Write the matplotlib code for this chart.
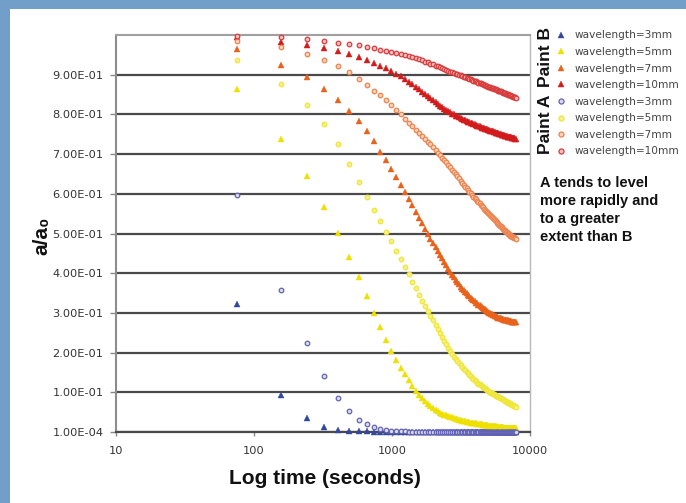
import matplotlib.pyplot as plt
from matplotlib.patches import Rectangle

# sample times (s), same for every series
time_s = [75, 158, 241, 324, 407, 490, 573, 656, 739, 822,
          905, 988, 1071, 1154, 1237, 1320, 1403, 1486, 1569, 1652,
          1735, 1818, 1901, 1984, 2067, 2150, 2233, 2316, 2399, 2482,
          2565, 2648, 2731, 2814, 2897, 2980, 3063, 3146, 3229, 3312,
          3395, 3478, 3561, 3644, 3727, 3810, 3893, 3976, 4059, 4142,
          4225, 4308, 4391, 4474, 4557, 4640, 4723, 4806, 4889, 4972,
          5055, 5138, 5221, 5304, 5387, 5470, 5553, 5636, 5719, 5802,
          5885, 5968, 6051, 6134, 6217, 6300, 6383, 6466, 6549, 6632,
          6715, 6798, 6881, 6964, 7047, 7130, 7213, 7296, 7379, 7462,
          7545, 7628, 7711, 7794, 7877]

# Paint B (triangles)
paint_b_3mm = [0.323, 0.094, 0.035, 0.013, 0.006, 0.0035, 0.0024, 0.0017, 0.0013, 0.0011,
               0.0010, 0.0009, 0.0008, 0.0008, 0.0007, 0.0007, 0.0007, 0.0006, 0.0006, 0.0006,
               0.0005, 0.0005, 0.0005, 0.0005, 0.0005, 0.0005, 0.0005, 0.0005, 0.0005, 0.0005,
               0.0005, 0.0005, 0.0005, 0.0005, 0.0005, 0.0005, 0.0005, 0.0005, 0.0005, 0.0005,
               0.0004, 0.0004, 0.0004, 0.0004, 0.0004, 0.0004, 0.0004, 0.0004, 0.0004, 0.0004,
               0.0004, 0.0004, 0.0004, 0.0004, 0.0004, 0.0004, 0.0004, 0.0004, 0.0004, 0.0004,
               0.0004, 0.0004, 0.0004, 0.0004, 0.0004, 0.0004, 0.0004, 0.0004, 0.0004, 0.0004,
               0.0003, 0.0003, 0.0003, 0.0003, 0.0003, 0.0003, 0.0003, 0.0003, 0.0003, 0.0003,
               0.0003, 0.0003, 0.0003, 0.0003, 0.0003, 0.0003, 0.0003, 0.0003, 0.0003, 0.0003,
               0.0003, 0.0003, 0.0003, 0.0003, 0.0003]
paint_b_5mm = [0.865, 0.737, 0.645, 0.568, 0.501, 0.442, 0.390, 0.343, 0.300, 0.264,
               0.233, 0.205, 0.181, 0.162, 0.145, 0.130, 0.116, 0.104, 0.094, 0.085,
               0.078, 0.071, 0.065, 0.060, 0.056, 0.052, 0.049, 0.046, 0.044, 0.042,
               0.040, 0.038, 0.037, 0.035, 0.034, 0.033, 0.031, 0.030, 0.029, 0.028,
               0.027, 0.026, 0.026, 0.025, 0.024, 0.024, 0.023, 0.022, 0.022, 0.021,
               0.021, 0.020, 0.020, 0.019, 0.018, 0.018, 0.018, 0.017, 0.017, 0.016,
               0.016, 0.016, 0.015, 0.015, 0.015, 0.014, 0.014, 0.014, 0.013, 0.013,
               0.013, 0.013, 0.012, 0.012, 0.012, 0.012, 0.012, 0.011, 0.011, 0.011,
               0.011, 0.011, 0.011, 0.010, 0.010, 0.010, 0.010, 0.010, 0.010, 0.010,
               0.010, 0.010, 0.010, 0.010, 0.010]
paint_b_7mm = [0.965, 0.925, 0.893, 0.864, 0.837, 0.809, 0.784, 0.759, 0.732, 0.706,
               0.684, 0.663, 0.642, 0.623, 0.605, 0.587, 0.571, 0.555, 0.540, 0.526,
               0.512, 0.499, 0.487, 0.477, 0.466, 0.457, 0.447, 0.438, 0.429, 0.420,
               0.411, 0.403, 0.396, 0.390, 0.384, 0.378, 0.372, 0.366, 0.361, 0.357,
               0.353, 0.349, 0.345, 0.342, 0.338, 0.335, 0.332, 0.329, 0.326, 0.324,
               0.321, 0.319, 0.317, 0.315, 0.313, 0.311, 0.309, 0.307, 0.305, 0.303,
               0.301, 0.300, 0.298, 0.297, 0.296, 0.294, 0.293, 0.292, 0.290, 0.289,
               0.288, 0.287, 0.286, 0.286, 0.285, 0.284, 0.284, 0.283, 0.283, 0.282,
               0.282, 0.281, 0.281, 0.280, 0.280, 0.279, 0.279, 0.279, 0.278, 0.278,
               0.277, 0.277, 0.277, 0.276, 0.276]
paint_b_10mm = [0.995, 0.982, 0.974, 0.967, 0.960, 0.952, 0.945, 0.938, 0.930, 0.923,
                0.917, 0.910, 0.903, 0.896, 0.889, 0.882, 0.876, 0.869, 0.863, 0.857,
                0.851, 0.846, 0.841, 0.836, 0.831, 0.827, 0.822, 0.818, 0.814, 0.810,
                0.808, 0.805, 0.802, 0.800, 0.797, 0.795, 0.793, 0.791, 0.789, 0.787,
                0.786, 0.784, 0.782, 0.781, 0.779, 0.778, 0.776, 0.775, 0.774, 0.772,
                0.771, 0.770, 0.769, 0.767, 0.766, 0.765, 0.764, 0.763, 0.762, 0.761,
                0.760, 0.759, 0.758, 0.758, 0.757, 0.756, 0.755, 0.754, 0.753, 0.752,
                0.752, 0.751, 0.750, 0.750, 0.749, 0.748, 0.748, 0.747, 0.746, 0.746,
                0.745, 0.745, 0.744, 0.744, 0.743, 0.743, 0.742, 0.742, 0.741, 0.741,
                0.740, 0.740, 0.740, 0.739, 0.739]

# Paint A (circles)
paint_a_3mm = [0.596, 0.358, 0.223, 0.141, 0.086, 0.052, 0.031, 0.019, 0.012, 0.008,
               0.0055, 0.0038, 0.0027, 0.0020, 0.0015, 0.0012, 0.0010, 0.0009, 0.0008, 0.0008,
               0.0007, 0.0007, 0.0007, 0.0007, 0.0007, 0.0007, 0.0007, 0.0007, 0.0007, 0.0007,
               0.0006, 0.0006, 0.0006, 0.0006, 0.0006, 0.0006, 0.0006, 0.0006, 0.0006, 0.0006,
               0.0006, 0.0006, 0.0006, 0.0006, 0.0006, 0.0006, 0.0006, 0.0006, 0.0006, 0.0006,
               0.0005, 0.0005, 0.0005, 0.0005, 0.0005, 0.0005, 0.0005, 0.0005, 0.0005, 0.0005,
               0.0005, 0.0005, 0.0005, 0.0005, 0.0005, 0.0005, 0.0005, 0.0005, 0.0005, 0.0005,
               0.0005, 0.0005, 0.0005, 0.0005, 0.0005, 0.0005, 0.0005, 0.0005, 0.0005, 0.0005,
               0.0004, 0.0004, 0.0004, 0.0004, 0.0004, 0.0004, 0.0004, 0.0004, 0.0004, 0.0004,
               0.0004, 0.0004, 0.0004, 0.0004, 0.0004]
paint_a_5mm = [0.936, 0.877, 0.824, 0.777, 0.726, 0.676, 0.631, 0.593, 0.560, 0.531,
               0.505, 0.480, 0.457, 0.436, 0.416, 0.397, 0.379, 0.362, 0.346, 0.331,
               0.318, 0.305, 0.293, 0.281, 0.270, 0.259, 0.249, 0.239, 0.230, 0.221,
               0.212, 0.203, 0.196, 0.190, 0.184, 0.179, 0.173, 0.168, 0.163, 0.159,
               0.155, 0.152, 0.148, 0.144, 0.141, 0.137, 0.134, 0.131, 0.128, 0.124,
               0.122, 0.120, 0.118, 0.116, 0.114, 0.112, 0.110, 0.108, 0.106, 0.104,
               0.102, 0.101, 0.099, 0.098, 0.096, 0.095, 0.094, 0.092, 0.091, 0.090,
               0.089, 0.087, 0.086, 0.085, 0.084, 0.083, 0.082, 0.080, 0.079, 0.078,
               0.077, 0.076, 0.075, 0.074, 0.073, 0.072, 0.071, 0.070, 0.069, 0.068,
               0.067, 0.066, 0.066, 0.065, 0.064]
paint_a_7mm = [0.984, 0.970, 0.953, 0.938, 0.923, 0.906, 0.889, 0.875, 0.860, 0.848,
               0.836, 0.824, 0.812, 0.800, 0.789, 0.779, 0.770, 0.761, 0.753, 0.746,
               0.738, 0.731, 0.725, 0.718, 0.711, 0.704, 0.698, 0.691, 0.685, 0.679,
               0.673, 0.667, 0.661, 0.655, 0.649, 0.644, 0.639, 0.633, 0.628, 0.623,
               0.618, 0.614, 0.609, 0.605, 0.601, 0.597, 0.593, 0.590, 0.586, 0.582,
               0.579, 0.576, 0.572, 0.569, 0.566, 0.563, 0.560, 0.557, 0.554, 0.552,
               0.549, 0.546, 0.544, 0.541, 0.538, 0.536, 0.533, 0.531, 0.529, 0.526,
               0.524, 0.522, 0.520, 0.518, 0.516, 0.514, 0.512, 0.510, 0.508, 0.506,
               0.505, 0.503, 0.501, 0.499, 0.498, 0.497, 0.495, 0.494, 0.493, 0.492,
               0.491, 0.490, 0.489, 0.488, 0.487]
paint_a_10mm = [0.997, 0.996, 0.990, 0.986, 0.981, 0.977, 0.974, 0.970, 0.966, 0.963,
                0.960, 0.958, 0.955, 0.952, 0.950, 0.947, 0.945, 0.942, 0.939, 0.936,
                0.933, 0.931, 0.928, 0.926, 0.923, 0.921, 0.919, 0.917, 0.914, 0.912,
                0.910, 0.908, 0.907, 0.905, 0.903, 0.901, 0.900, 0.898, 0.896, 0.895,
                0.893, 0.892, 0.891, 0.889, 0.888, 0.886, 0.885, 0.884, 0.883, 0.881,
                0.880, 0.879, 0.878, 0.877, 0.876, 0.875, 0.873, 0.872, 0.871, 0.870,
                0.869, 0.868, 0.867, 0.867, 0.866, 0.865, 0.864, 0.863, 0.862, 0.861,
                0.860, 0.859, 0.858, 0.858, 0.857, 0.856, 0.855, 0.854, 0.854, 0.853,
                0.852, 0.851, 0.851, 0.850, 0.849, 0.848, 0.848, 0.847, 0.846, 0.846,
                0.845, 0.844, 0.844, 0.843, 0.842]

wavelength_labels = ["wavelength=3mm", "wavelength=5mm", "wavelength=7mm", "wavelength=10mm"]
y_ticks = [0.0001, 0.1, 0.2, 0.3, 0.4, 0.5, 0.6, 0.7, 0.8, 0.9]
y_tick_labels = ["1.00E-04", "1.00E-01", "2.00E-01", "3.00E-01", "4.00E-01",
                 "5.00E-01", "6.00E-01", "7.00E-01", "8.00E-01", "9.00E-01"]
x_ticks = [10, 100, 1000, 10000]
x_tick_labels = ["10", "100", "1000", "10000"]

W, H = 686, 503
fig = plt.figure(figsize=(W / 100, H / 100), dpi=100, facecolor='#729fca')
# white panel inside the blue frame (kept behind the axes)
fig.patches.append(Rectangle((10 / W, 0), 1, (H - 9) / H, transform=fig.transFigure,
                             facecolor='white', edgecolor='none', zorder=-10))

ax = fig.add_axes([116 / W, 1 - 432 / H, (530 - 116) / W, (432 - 35) / H])
ax.set_facecolor('white')

tri_colors = ['#33489c', '#eee000', '#e8621c', '#d21c1c']
circ_edges = ['#6262b4', '#efe63a', '#ec8450', '#d83c3c']
circ_fills = ['#dcdcf0', '#f6f08a', '#f9d2ba', '#f4c0c0']

handles = []
for vals, c in zip([paint_b_3mm, paint_b_5mm, paint_b_7mm, paint_b_10mm], tri_colors):
    h, = ax.plot(time_s, vals, linestyle='none', marker='^', markersize=3.9,
                 color=c, markeredgewidth=0.3, clip_on=False, zorder=3)
    handles.append(h)
for vals, ec, fc in zip([paint_a_3mm, paint_a_5mm, paint_a_7mm, paint_a_10mm], circ_edges, circ_fills):
    h, = ax.plot(time_s, vals, linestyle='none', marker='o', markersize=3.3,
                 markeredgecolor=ec, markerfacecolor=fc, markeredgewidth=0.9,
                 clip_on=False, zorder=3)
    handles.append(h)

ax.set_xscale('log')
ax.set_xlim(10, 10000)
ax.set_ylim(0.0001, 1.0)
ax.set_xticks(x_ticks)
ax.set_xticklabels(x_tick_labels)
ax.minorticks_off()
ax.set_yticks(y_ticks)
ax.set_yticklabels(y_tick_labels)
ax.tick_params(axis='both', labelsize=8.2, colors='#333333', length=4, width=1, direction='out')
ax.tick_params(axis='y', pad=5, color='#888888')
ax.tick_params(axis='x', pad=7, color='#888888', length=3)

ax.set_axisbelow(True)
ax.yaxis.grid(True, color='#4a4a4a', linewidth=1.6)
ax.spines['left'].set_color('#8c8c8c')
ax.spines['left'].set_linewidth(1.5)
ax.spines['top'].set_color('#a0a0a0')
ax.spines['top'].set_linewidth(1.5)
ax.spines['right'].set_color('#b8b8b8')
ax.spines['right'].set_linewidth(1.0)
ax.spines['bottom'].set_color('#4a4a4a')
ax.spines['bottom'].set_linewidth(1.6)

bold_font = ['Liberation Sans', 'DejaVu Sans']
fig.text(42 / W, 1 - 236 / H, 'a/a\u2080', rotation=90, ha='center', va='center',
         fontsize=15, fontweight='bold', family=bold_font, color='#111111')
fig.text(325 / W, 1 - 478 / H, 'Log time (seconds)', ha='center', va='center',
         fontsize=15, fontweight='bold', family=bold_font, color='#111111')

leg = fig.legend(handles, wavelength_labels + wavelength_labels, loc='upper left',
                 bbox_to_anchor=(556 / W, 1 - 30.5 / H), frameon=False, fontsize=7.6,
                 handlelength=1.0, handletextpad=0.75, labelspacing=0.62,
                 borderpad=0, borderaxespad=0, markerscale=1.1)
for t in leg.get_texts():
    t.set_color('#444444')

fig.text(545 / W, 1 - 57 / H, 'Paint B', rotation=90, ha='center', va='center',
         fontsize=12.5, fontweight='bold', family=bold_font, color='#111111')
fig.text(545 / W, 1 - 124 / H, 'Paint A', rotation=90, ha='center', va='center',
         fontsize=12.5, fontweight='bold', family=bold_font, color='#111111')
fig.text(540 / W, 1 - 176 / H, 'A tends to level\nmore rapidly and\nto a greater\nextent than B',
         ha='left', va='top', fontsize=10.5, fontweight='bold', family=bold_font,
         color='#111111', linespacing=1.36)

fig.savefig('out.png', dpi=100, facecolor=fig.get_facecolor())
